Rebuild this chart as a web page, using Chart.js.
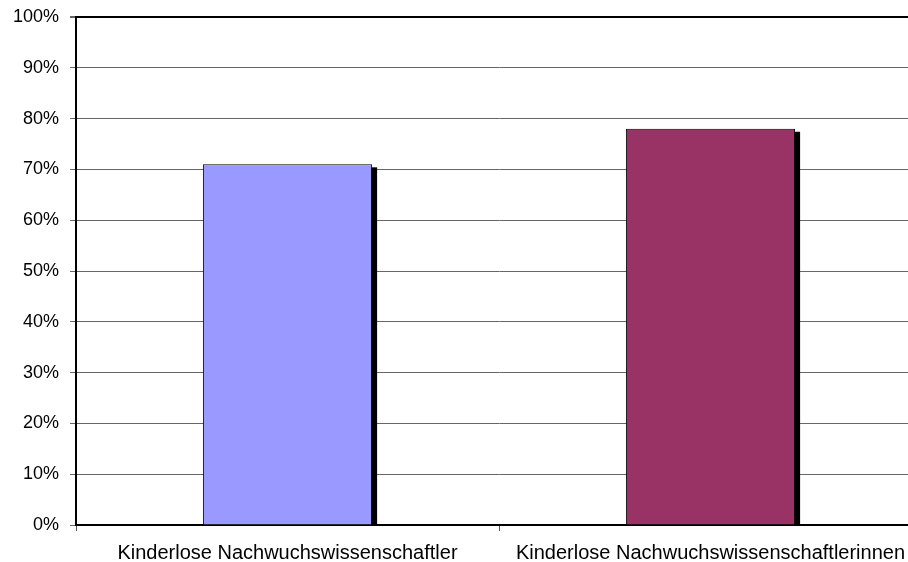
<!DOCTYPE html>
<html>
<head>
<meta charset="utf-8">
<script src="https://cdn.jsdelivr.net/npm/chart.js@4/dist/chart.umd.min.js"></script>
<style>
  html, body { margin: 0; padding: 0; background: #fff; overflow: hidden; }
  #wrap { width: 922px; height: 562px; }
</style>
</head>
<body>
<div id="wrap"><canvas id="c" width="922" height="562"></canvas></div>
<script>
const categories = ["Kinderlose Nachwuchswissenschaftler", "Kinderlose Nachwuchswissenschaftlerinnen"];
const shares = [71, 78];
const barColors = ["#9999FF", "#993366"];

// black drop shadow behind the bars, like the old office chart
const barShadow = {
  id: "barShadow",
  beforeDatasetsDraw(chart) {
    const ctx = chart.ctx;
    const area = chart.chartArea;
    ctx.save();
    ctx.beginPath();
    ctx.rect(area.left, area.top, area.right - area.left, area.bottom - area.top);
    ctx.clip();
    ctx.fillStyle = "#000";
    chart.getDatasetMeta(0).data.forEach((bar) => {
      const half = bar.width / 2;
      ctx.fillRect(bar.x - half + 5, bar.y + 3, bar.width, bar.base - bar.y);
    });
    ctx.restore();
  }
};

const ctx = document.getElementById("c");

new Chart(ctx, {
  type: "bar",
  data: {
    labels: categories,
    datasets: [
      {
        data: shares,
        backgroundColor: barColors,
        borderColor: "#000",
        borderWidth: 1,
        categoryPercentage: 0.4,
        barPercentage: 1,
        clip: 0,
      },
    ],
  },
  options: {
    responsive: false,
    animation: false,
    events: [],
    layout: { padding: { top: 17, left: 0, right: 0, bottom: 0 } },
    plugins: {
      legend: { display: false },
      tooltip: { enabled: false },
    },
    scales: {
      x: {
        grid: {
          offset: true,
          drawOnChartArea: false,
          drawTicks: true,
          tickLength: 6,
          color: "#555",
        },
        border: { color: "#000", width: 2 },
        ticks: {
          color: "#000",
          font: { family: "Liberation Sans", size: 20 },
          padding: 10,
          maxRotation: 0,
          autoSkip: false,
        },
        afterFit(scale) {
          scale.height = 37;
        },
      },
      y: {
        min: 0,
        max: 100,
        grid: {
          color: (c) => (c.index === 10 ? "#000" : "#666"),
          lineWidth: (c) => (c.index === 10 ? 2 : 1),
          tickLength: 6,
          tickColor: "#666",
        },
        border: { color: "#000", width: 2 },
        ticks: {
          stepSize: 10,
          color: "#000",
          font: { family: "Liberation Sans", size: 18 },
          padding: 11,
          callback: (v) => v + "%",
        },
        afterFit(scale) {
          scale.width = 76;
          scale.paddingTop = 0;
          scale.paddingBottom = 0;
        },
      },
    },
  },
  plugins: [barShadow],
});
</script>
</body>
</html>
